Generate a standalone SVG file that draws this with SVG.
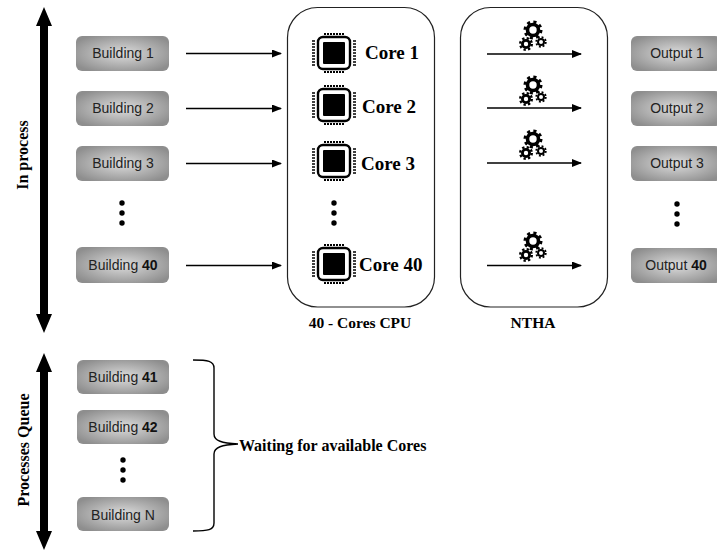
<svg xmlns="http://www.w3.org/2000/svg" width="717" height="551" viewBox="0 0 717 551">
<style>
.bx{fill:url(#g)}
.t{font:14px "Liberation Sans",Arial,sans-serif;fill:#222;text-anchor:middle}
.b{font-weight:bold;fill:#111}
.s{font:bold 19px "Liberation Serif","Times New Roman",serif;fill:#000}
.c{font:bold 15.5px "Liberation Serif","Times New Roman",serif;fill:#000;text-anchor:middle}
.p{fill:#fff;stroke:#222;stroke-width:1.2}
.l{stroke:#000;stroke-width:1.4;fill:none}
.dot{fill:#000}
</style>
<defs>
<radialGradient id="g" cx="50%" cy="50%" r="60%"><stop offset="0" stop-color="#dcdcdc"/><stop offset="1" stop-color="#8e8e8e"/></radialGradient>
<marker id="a" markerWidth="10" markerHeight="8" refX="9" refY="4" orient="auto" markerUnits="userSpaceOnUse"><path d="M0 0L10 4L0 8z" fill="#000"/></marker>
<g id="chip">
<rect x="-16" y="-16" width="32" height="32" rx="5" fill="#fff" stroke="#000" stroke-width="2.4"/>
<rect x="-11" y="-11" width="22" height="22" rx="1" fill="#000"/>
<path d="M-10-20V-18M-7-20V-18M-4-20V-18M-1-20V-18M2-20V-18M5-20V-18M8-20V-18M-10 18V20M-7 18V20M-4 18V20M-1 18V20M2 18V20M5 18V20M8 18V20" stroke="#000" stroke-width="2" transform="translate(1 0)"/>
<path d="M-22-12H-19M-22-9H-19M-22-6H-19M-22-3H-19M-22 0H-19M-22 3H-19M-22 6H-19M-22 9H-19M-22 12H-19M19-12H22M19-9H22M19-6H22M19-3H22M19 0H22M19 3H22M19 6H22M19 9H22M19 12H22" stroke="#000" stroke-width="1.6"/>
</g>
<g id="gears" fill="none" stroke="#000">
<circle cx="0" cy="0" r="5.5" stroke-width="3.6"/><circle cx="0" cy="0" r="8" stroke-width="3" stroke-dasharray="3.1 3.2"/>
<circle cx="-7" cy="14" r="3.6" stroke-width="2.8"/><circle cx="-7" cy="14" r="5.8" stroke-width="2.4" stroke-dasharray="2.3 2.25"/>
<circle cx="8" cy="12" r="3" stroke-width="2"/><circle cx="8" cy="12" r="4.8" stroke-width="1.8" stroke-dasharray="1.9 1.87"/>
</g>
<g id="dots" class="dot"><circle cx="0" cy="-10" r="2.7"/><circle cx="0" cy="0" r="2.7"/><circle cx="0" cy="10" r="2.7"/></g>
</defs>
<rect width="717" height="551" fill="#fff"/>
<g id="panel-cpu"><rect class="p" x="287.500" y="7.500" width="147" height="299.500" rx="30"/><text class="c" x="360" y="328">40 - Cores CPU</text></g>
<g id="panel-ntha"><rect class="p" x="460.500" y="7.500" width="147" height="299.500" rx="30"/><text class="c" x="533" y="328">NTHA</text></g>
<g id="connectors">
<path class="l" marker-end="url(#a)" d="M186 53.500H281"/>
<path class="l" marker-end="url(#a)" d="M186 108.500H281"/>
<path class="l" marker-end="url(#a)" d="M186 163.500H281"/>
<path class="l" marker-end="url(#a)" d="M186 265.500H281"/>
<path class="l" marker-end="url(#a)" d="M487 54H581"/>
<path class="l" marker-end="url(#a)" d="M487 108H581"/>
<path class="l" marker-end="url(#a)" d="M487 163H581"/>
<path class="l" marker-end="url(#a)" d="M487 265.500H581"/>
<path fill="#000" d="M44 7L52 26H48V314H52L44 333L36 314H40V26H36z"/>
<path fill="#000" d="M44 353L52 372H48V531H52L44 550L36 531H40V372H36z"/>
<path fill="none" stroke="#000" stroke-width="1.4" d="M193 360C208 360 214 361 214 368V434C214 441 222 443 238 444C222 445 214 447 214 454V523C214 530 208 531 193 531"/>
</g>
<g id="b1"><rect class="bx" x="76" y="36" width="93" height="35" rx="6"/><text class="t" x="123" y="58">Building 1</text></g>
<g id="b2"><rect class="bx" x="76" y="91" width="93" height="35" rx="6"/><text class="t" x="123" y="113">Building 2</text></g>
<g id="b3"><rect class="bx" x="76" y="146" width="93" height="35" rx="6"/><text class="t" x="123" y="168">Building 3</text></g>
<use href="#dots" x="122" y="213"/>
<g id="b40"><rect class="bx" x="76" y="247" width="93" height="36" rx="6"/><text class="t" x="123" y="270">Building <tspan class="b">40</tspan></text></g>
<g id="b41"><rect class="bx" x="77" y="360" width="92" height="34" rx="6"/><text class="t" x="123" y="382">Building <tspan class="b">41</tspan></text></g>
<g id="b42"><rect class="bx" x="77" y="410" width="92" height="34" rx="6"/><text class="t" x="123" y="432">Building <tspan class="b">42</tspan></text></g>
<use href="#dots" x="123" y="470"/>
<g id="bn"><rect class="bx" x="77" y="497" width="92" height="34" rx="6"/><text class="t" x="123" y="520">Building N</text></g>
<g id="core1"><use href="#chip" x="334" y="53"/><text class="s" x="365" y="59">Core 1</text></g>
<g id="core2"><use href="#chip" x="334" y="105"/><text class="s" x="362" y="113">Core 2</text></g>
<g id="core3"><use href="#chip" x="334" y="161"/><text class="s" x="361" y="170">Core 3</text></g>
<use href="#dots" x="334" y="213"/>
<g id="core40"><use href="#chip" x="334" y="264"/><text class="s" x="359" y="271">Core 40</text></g>
<g id="gear1"><use href="#gears" x="533" y="30"/></g>
<g id="gear2"><use href="#gears" x="533" y="85"/></g>
<g id="gear3"><use href="#gears" x="533" y="139"/></g>
<g id="gear4"><use href="#gears" x="533" y="241"/></g>
<g id="o1"><rect class="bx" x="631" y="36" width="90" height="35" rx="6"/><text class="t" x="677" y="58">Output 1</text></g>
<g id="o2"><rect class="bx" x="631" y="91" width="90" height="35" rx="6"/><text class="t" x="677" y="113">Output 2</text></g>
<g id="o3"><rect class="bx" x="631" y="146" width="90" height="35" rx="6"/><text class="t" x="677" y="168">Output 3</text></g>
<use href="#dots" x="677" y="214"/>
<g id="o40"><rect class="bx" x="631" y="248" width="90" height="35" rx="6"/><text class="t" x="676" y="270">Output <tspan class="b">40</tspan></text></g>
<text transform="translate(28 155) rotate(-90)" text-anchor="middle" style="font:bold 16px 'Liberation Serif',serif">In process</text>
<text transform="translate(29 450) rotate(-90)" text-anchor="middle" style="font:bold 16px 'Liberation Serif',serif">Processes Queue</text>
<text x="239" y="451" style="font:bold 16px 'Liberation Serif',serif">Waiting for available Cores</text>
</svg>
